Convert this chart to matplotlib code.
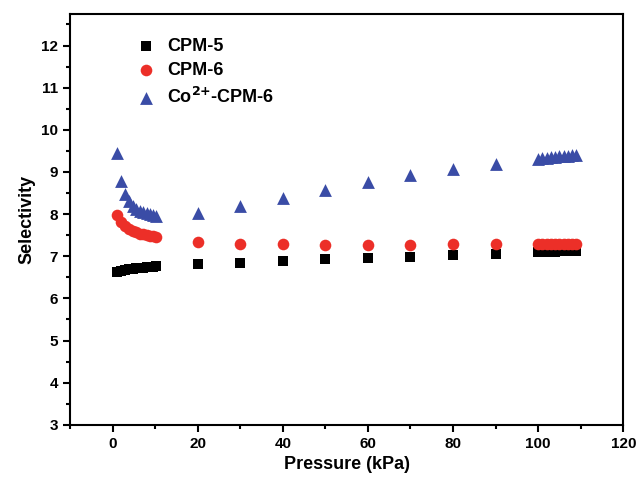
import numpy as np
import matplotlib.pyplot as plt
from matplotlib.ticker import MultipleLocator

plt.rcParams['font.family'] = ['Liberation Sans', 'DejaVu Sans']
plt.rcParams['font.weight'] = 'bold'
plt.rcParams['mathtext.default'] = 'bf'

# pressure points (kPa)
p_low = [1, 2, 3, 3.9, 4.8, 5.6, 6.4, 7.2, 8.0, 8.8, 9.6, 10.3]
p_mid = [20, 30, 40, 50, 60, 70, 80, 90]
p_high = [100, 101, 102, 103, 104, 105, 106, 107, 108, 109]

cpm5 = ([6.62, 6.65, 6.67, 6.69, 6.70, 6.71, 6.72, 6.73, 6.74, 6.74, 6.75, 6.76]
        + [6.81, 6.85, 6.89, 6.93, 6.97, 6.99, 7.03, 7.05]
        + [7.10, 7.10, 7.11, 7.11, 7.11, 7.12, 7.12, 7.12, 7.13, 7.13])
cpm6 = ([7.98, 7.82, 7.72, 7.65, 7.60, 7.57, 7.54, 7.52, 7.50, 7.48, 7.47, 7.46]
        + [7.34, 7.30, 7.28, 7.27, 7.27, 7.27, 7.28, 7.28]
        + [7.29, 7.29, 7.29, 7.29, 7.29, 7.30, 7.30, 7.30, 7.30, 7.30])
co_cpm6 = ([9.44, 8.79, 8.48, 8.30, 8.20, 8.13, 8.08, 8.05, 8.02, 8.00, 7.98, 7.96]
           + [8.03, 8.20, 8.39, 8.58, 8.77, 8.92, 9.06, 9.20]
           + [9.30, 9.32, 9.33, 9.35, 9.36, 9.37, 9.38, 9.39, 9.40, 9.41])
pressure = p_low + p_mid + p_high

fig = plt.figure(figsize=(6.36, 4.79), dpi=100)
ax = fig.add_axes([0.110, 0.113, 0.870, 0.858])

ax.scatter(pressure, cpm5, marker='s', s=48, color='black', lw=0, label='CPM-5', zorder=3)
ax.scatter(pressure, cpm6, marker='o', s=70, color='#ec2f28', lw=0, label='CPM-6', zorder=3)
ax.scatter(pressure, co_cpm6, marker='^', s=85, color='#3a4ca6', lw=0,
           label='Co$^{2{+}}$-CPM-6', zorder=3)

ax.set_xlim(-10, 120)
ax.set_ylim(3, 12.75)
ax.xaxis.set_major_locator(MultipleLocator(20))
ax.xaxis.set_minor_locator(MultipleLocator(10))
ax.yaxis.set_major_locator(MultipleLocator(1))
ax.yaxis.set_minor_locator(MultipleLocator(0.5))
ax.tick_params(which='both', direction='out', width=1.5, labelsize=11, top=False, right=False)
ax.tick_params(which='major', length=5)
ax.tick_params(which='minor', length=3)
for s in ax.spines.values():
    s.set_linewidth(1.5)

ax.set_xlabel('Pressure (kPa)', fontsize=13, fontweight='bold')
ax.set_ylabel('Selectivity', fontsize=13, fontweight='bold')

ax.legend(loc='upper left', bbox_to_anchor=(0.075, 0.982), frameon=False, fontsize=13,
          handletextpad=0.2, labelspacing=0.42, scatterpoints=1)

fig.savefig('out.png', dpi=100)
